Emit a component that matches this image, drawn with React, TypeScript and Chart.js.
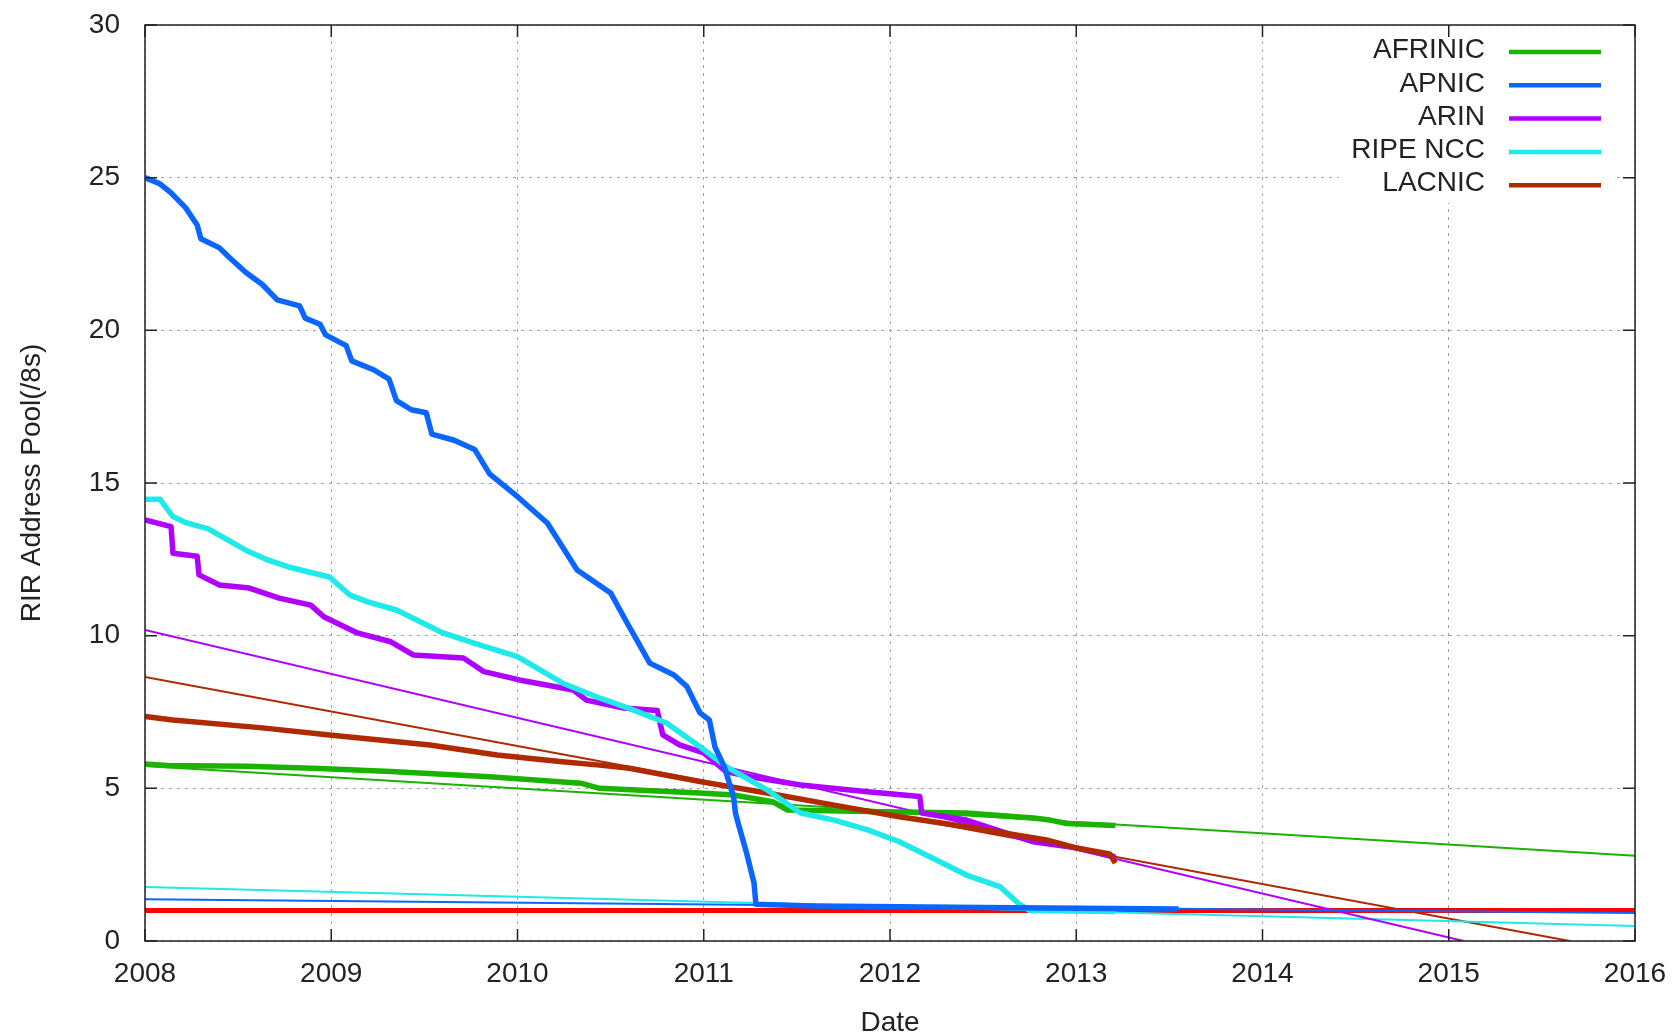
import React, { useEffect, useRef } from 'react';
import { Chart, registerables } from 'chart.js';

Chart.register(...registerables);

// ---------- data ----------
const yearTicks = [2008, 2009, 2010, 2011, 2012, 2013, 2014, 2015, 2016];
const poolTicks = [0, 5, 10, 15, 20, 25, 30];

const seriesNames = ['AFRINIC', 'APNIC', 'ARIN', 'RIPE NCC', 'LACNIC'];
const seriesColors = ['#1ab300', '#0b66ff', '#b000ff', '#1fe9e9', '#b02a00'];
const reserveColor = '#ff0000';

const afrinicDates = [2008, 2008.12, 2008.55, 2008.94, 2009.32, 2009.85, 2010.34, 2010.44, 2010.98, 2011.16, 2011.37, 2011.45, 2011.88, 2012.41, 2012.77, 2012.86, 2012.95, 2013.21];
const afrinicPool = [5.8, 5.75, 5.72, 5.65, 5.55, 5.38, 5.17, 5.0, 4.85, 4.78, 4.56, 4.29, 4.24, 4.19, 4.03, 3.96, 3.85, 3.78];

const apnicDates = [2008, 2008.08, 2008.14, 2008.22, 2008.28, 2008.3, 2008.4, 2008.45, 2008.54, 2008.63, 2008.71, 2008.83, 2008.86, 2008.94, 2008.97, 2009.08, 2009.11, 2009.23, 2009.31, 2009.35, 2009.43, 2009.51, 2009.54, 2009.66, 2009.77, 2009.85, 2010.0, 2010.16, 2010.32, 2010.5, 2010.59, 2010.64, 2010.71, 2010.84, 2010.91, 2010.98, 2011.03, 2011.06, 2011.11, 2011.16, 2011.17, 2011.19, 2011.23, 2011.27, 2011.28, 2011.59, 2012.5, 2013.55];
const apnicPool = [25.0, 24.8, 24.5, 24.0, 23.45, 23.0, 22.7, 22.4, 21.9, 21.5, 21.0, 20.8, 20.4, 20.2, 19.85, 19.5, 19.0, 18.7, 18.4, 17.7, 17.4, 17.3, 16.6, 16.4, 16.1, 15.3, 14.55, 13.69, 12.15, 11.4, 10.4, 9.86, 9.1, 8.71, 8.33, 7.47, 7.24, 6.36, 5.71, 4.73, 4.19, 3.74, 2.88, 1.9, 1.2, 1.15, 1.1, 1.05];

const arinDates = [2008, 2008.14, 2008.15, 2008.28, 2008.29, 2008.4, 2008.56, 2008.72, 2008.89, 2008.96, 2009.14, 2009.32, 2009.44, 2009.71, 2009.82, 2010.01, 2010.3, 2010.37, 2010.57, 2010.75, 2010.78, 2010.87, 2011.0, 2011.12, 2011.25, 2011.52, 2011.88, 2012.16, 2012.17, 2012.41, 2012.77, 2013.0, 2013.21];
const arinPool = [13.79, 13.57, 12.7, 12.6, 11.99, 11.66, 11.56, 11.23, 11.0, 10.62, 10.09, 9.8, 9.37, 9.27, 8.82, 8.55, 8.22, 7.89, 7.63, 7.55, 6.75, 6.42, 6.16, 5.55, 5.38, 5.11, 4.89, 4.73, 4.19, 3.96, 3.25, 3.05, 2.75];

const ripeDates = [2008, 2008.08, 2008.15, 2008.22, 2008.34, 2008.46, 2008.54, 2008.65, 2008.77, 2008.99, 2009.1, 2009.2, 2009.35, 2009.6, 2009.77, 2010.0, 2010.24, 2010.44, 2010.62, 2010.8, 2010.98, 2011.12, 2011.34, 2011.52, 2011.7, 2011.88, 2012.05, 2012.23, 2012.41, 2012.59, 2012.7, 2012.75, 2013.21];
const ripePool = [14.47, 14.47, 13.9, 13.7, 13.5, 13.08, 12.8, 12.5, 12.25, 11.92, 11.33, 11.1, 10.84, 10.09, 9.75, 9.31, 8.45, 7.96, 7.57, 7.14, 6.36, 5.71, 4.95, 4.19, 3.96, 3.64, 3.25, 2.71, 2.16, 1.78, 1.18, 1.0, 0.97];

const lacnicDates = [2008, 2008.15, 2008.63, 2008.99, 2009.53, 2009.89, 2010.24, 2010.44, 2010.6, 2010.98, 2011.34, 2011.7, 2012.05, 2012.41, 2012.84, 2013.0, 2013.18, 2013.21];
const lacnicPool = [7.35, 7.24, 6.98, 6.75, 6.42, 6.09, 5.87, 5.76, 5.66, 5.22, 4.85, 4.45, 4.07, 3.74, 3.31, 3.05, 2.85, 2.55];

// projected (trend) lines
const afrinicTrendDates = [2008, 2016];
const afrinicTrendPool = [5.73, 2.79];
const apnicTrendDates = [2008, 2016];
const apnicTrendPool = [1.37, 0.92];
const arinTrendDates = [2008, 2015.08];
const arinTrendPool = [10.19, 0];
const ripeTrendDates = [2008, 2016];
const ripeTrendPool = [1.77, 0.49];
const lacnicTrendDates = [2008, 2015.65];
const lacnicTrendPool = [8.65, 0];

// reserve level
const reserveDates = [2008, 2016];
const reservePool = [1, 1];

const actualDates = [afrinicDates, apnicDates, arinDates, ripeDates, lacnicDates];
const actualPools = [afrinicPool, apnicPool, arinPool, ripePool, lacnicPool];
const trendDates = [afrinicTrendDates, apnicTrendDates, arinTrendDates, ripeTrendDates, lacnicTrendDates];
const trendPools = [afrinicTrendPool, apnicTrendPool, arinTrendPool, ripeTrendPool, lacnicTrendPool];

// ---------- helpers ----------
const FONT = '"Liberation Sans", Arial, Helvetica, sans-serif';
const TEXT = '#222222';

function pts(xs: number[], ys: number[]) {
  return xs.map((x, i) => ({ x, y: ys[i] }));
}

// draw order: lower "order" on top
const thickOrder = [4, 0, 3, 1, 2]; // APNIC top, then RIPE, LACNIC, ARIN, AFRINIC

const framePlugin = {
  id: 'gnuFrame',
  afterDraw(chart: any) {
    const { ctx, chartArea: a, scales } = chart;
    const xs = scales.x;
    const ys = scales.y;
    ctx.save();
    // key box
    ctx.fillStyle = '#ffffff';
    ctx.fillRect(a.right - 296, a.top + 1, 277, 177);
    ctx.font = '28px ' + FONT;
    ctx.textAlign = 'right';
    ctx.textBaseline = 'middle';
    seriesNames.forEach((name, i) => {
      const cy = a.top + 27 + i * 33.3;
      ctx.fillStyle = TEXT;
      ctx.fillText(name, a.right - 150, cy - 1.5);
      ctx.strokeStyle = seriesColors[i];
      ctx.lineWidth = 4.5;
      ctx.beginPath();
      ctx.moveTo(a.right - 126, cy);
      ctx.lineTo(a.right - 34, cy);
      ctx.stroke();
    });
    // border
    ctx.strokeStyle = '#222222';
    ctx.lineWidth = 1.5;
    ctx.strokeRect(a.left, a.top, a.right - a.left, a.bottom - a.top);
    // inward ticks
    ctx.beginPath();
    poolTicks.forEach((v) => {
      const py = ys.getPixelForValue(v);
      ctx.moveTo(a.left, py);
      ctx.lineTo(a.left + 12, py);
      ctx.moveTo(a.right, py);
      ctx.lineTo(a.right - 12, py);
    });
    yearTicks.forEach((v) => {
      const px = xs.getPixelForValue(v);
      ctx.moveTo(px, a.bottom);
      ctx.lineTo(px, a.bottom - 12);
      ctx.moveTo(px, a.top);
      ctx.lineTo(px, a.top + 12);
    });
    ctx.stroke();
    ctx.restore();
  },
};

export default function App() {
  const canvasRef = useRef<HTMLCanvasElement | null>(null);

  useEffect(() => {
    const canvas = canvasRef.current;
    if (!canvas) return;

    const datasets: any[] = [];
    actualDates.forEach((d, i) => {
      datasets.push({
        label: seriesNames[i],
        data: pts(d, actualPools[i]),
        borderColor: seriesColors[i],
        backgroundColor: seriesColors[i],
        borderWidth: 5.5,
        order: thickOrder[i],
      });
    });
    trendDates.forEach((d, i) => {
      datasets.push({
        label: seriesNames[i] + ' trend',
        data: pts(d, trendPools[i]),
        borderColor: seriesColors[i],
        backgroundColor: seriesColors[i],
        borderWidth: 2,
        order: 10,
      });
    });
    datasets.push({
      label: 'reserve',
      data: pts(reserveDates, reservePool),
      borderColor: reserveColor,
      backgroundColor: reserveColor,
      borderWidth: 5,
      order: 20,
    });

    const chart = new Chart(canvas, {
      type: 'line',
      data: { datasets },
      plugins: [framePlugin],
      options: {
        animation: false,
        responsive: false,
        devicePixelRatio: 1,
        layout: { padding: { left: 0, top: 25, right: 40, bottom: 0 } },
        elements: {
          point: { radius: 0, hoverRadius: 0 },
          line: { tension: 0, borderJoinStyle: 'round', fill: false },
        },
        plugins: {
          legend: { display: false },
          tooltip: { enabled: false },
        },
        scales: {
          x: {
            type: 'linear',
            min: 2008,
            max: 2016,
            afterBuildTicks: (s: any) => {
              s.ticks = yearTicks.map((v) => ({ value: v }));
            },
            ticks: {
              stepSize: 1,
              padding: 16,
              color: TEXT,
              font: { family: FONT, size: 28 },
              callback: (v: any) => String(v),
              maxRotation: 0,
              autoSkip: false,
            },
            grid: { color: '#a0a0a0', lineWidth: 1, drawTicks: false, borderDash: [3, 5] },
            border: { display: false, dash: [3, 5] },
            title: {
              display: true,
              text: 'Date',
              color: TEXT,
              font: { family: FONT, size: 28 },
              padding: { top: 0, bottom: -4 },
            },
            afterFit: (s: any) => {
              s.height = 95;
              s.paddingLeft = 0;
              s.paddingRight = 0;
              s.paddingTop = 0;
              s.paddingBottom = 0;
            },
          },
          y: {
            type: 'linear',
            min: 0,
            max: 30,
            afterBuildTicks: (s: any) => {
              s.ticks = poolTicks.map((v) => ({ value: v }));
            },
            ticks: {
              stepSize: 5,
              padding: 25,
              color: TEXT,
              font: { family: FONT, size: 28 },
              callback: (v: any) => String(v),
            },
            grid: { color: '#a0a0a0', lineWidth: 1, drawTicks: false, borderDash: [3, 5] },
            border: { display: false, dash: [3, 5] },
            title: {
              display: true,
              text: 'RIR Address Pool(/8s)',
              color: TEXT,
              font: { family: FONT, size: 28 },
              padding: { top: 15, bottom: 0 },
            },
            afterFit: (s: any) => {
              s.width = 145;
              s.paddingLeft = 0;
              s.paddingRight = 0;
              s.paddingTop = 0;
              s.paddingBottom = 0;
            },
          },
        },
      },
    } as any);

    return () => {
      chart.destroy();
    };
  }, []);

  return (
    <div style={{ position: 'absolute', left: 0, top: 0, width: 1675, height: 1036, background: '#ffffff' }}>
      <canvas ref={canvasRef} width={1675} height={1036} style={{ display: 'block' }} />
    </div>
  );
}
